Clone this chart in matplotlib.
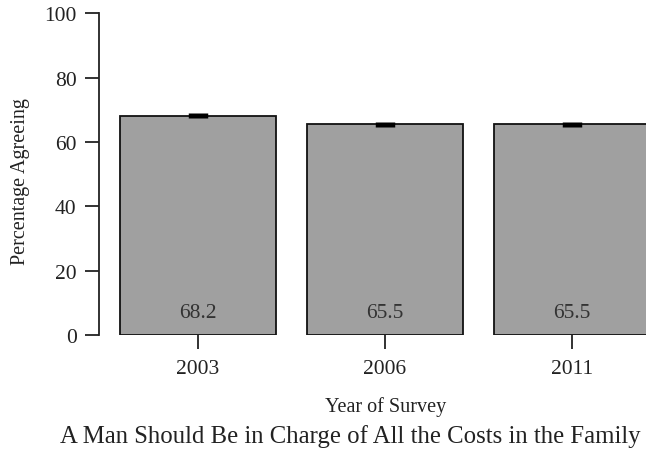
import matplotlib.pyplot as plt

years = ["2003", "2006", "2011"]
agree = [68.2, 65.5, 65.5]
err = [0.9, 0.8, 0.8]


def main():
    plt.rcParams['font.family'] = ['Liberation Serif', 'DejaVu Serif']
    fig = plt.figure(figsize=(6.46, 4.56), dpi=100)
    ax = fig.add_axes([0.153, 0.263, 0.847, 0.706])

    x = range(len(years))
    ax.bar(x, agree, width=0.834, color='#a0a0a0', edgecolor='#111111',
           linewidth=1.3, zorder=2)
    ax.errorbar(x, agree, yerr=err, fmt='none', ecolor='black',
                elinewidth=14, capsize=0, zorder=3)

    for i, v in enumerate(agree):
        ax.text(i, 7, f"{v:.1f}", ha='center', va='center', fontsize=15.5,
                color='#333333', zorder=4)

    ax.set_xlim(-0.53, 2.396)
    ax.set_ylim(0, 100)
    ax.set_yticks([0, 20, 40, 60, 80, 100])
    ax.set_xticks(list(x))
    ax.set_xticklabels(years)
    ax.tick_params(axis='both', length=10, width=1.3, color='#222222',
                   labelsize=15.5, labelcolor='#222222', pad=6)
    ax.tick_params(axis='x', pad=7)

    for s in ['top', 'right', 'bottom']:
        ax.spines[s].set_visible(False)
    ax.spines['left'].set_linewidth(1.3)
    ax.spines['left'].set_color('#222222')

    ax.set_ylabel("Percentage Agreeing", fontsize=14.5, color='#222222')
    ax.yaxis.set_label_coords(-0.125, 0.48)
    ax.set_xlabel("Year of Survey", fontsize=14.5, color='#222222')
    ax.xaxis.set_label_coords(0.525, -0.19)
    fig.text(0.542, 0.042, "A Man Should Be in Charge of All the Costs in the Family",
             ha='center', va='center', fontsize=17.8, color='#222222')

    fig.savefig("out.png", dpi=100)


if __name__ == "__main__":
    main()
